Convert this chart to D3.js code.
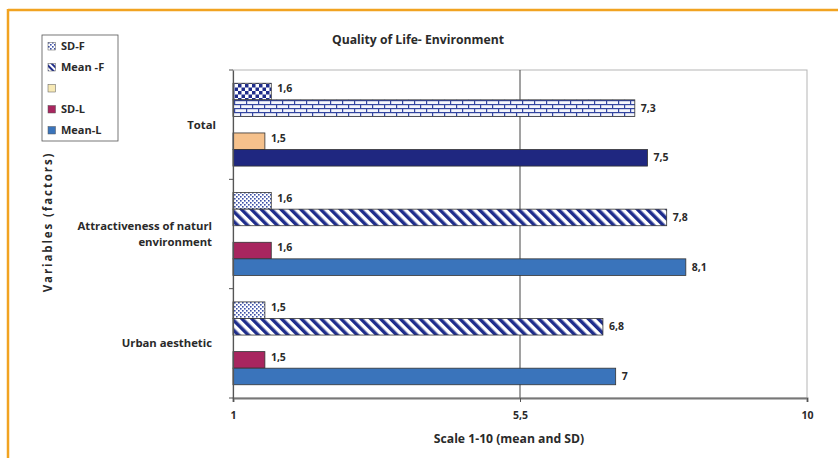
<!DOCTYPE html>
<html>
<head>
<meta charset="utf-8">
<script src="https://cdn.jsdelivr.net/npm/d3@7/dist/d3.min.js"></script>
<style>
  html, body { margin: 0; padding: 0; background: #fff; }
  svg { display: block; }
  text { font-family: "Open Sans", "DejaVu Sans", sans-serif; fill: #2a2a2a; }
</style>
</head>
<body>
<svg id="chart" width="838" height="458"></svg>
<script>
// Category labels (lines per label) and series names, top to bottom inside each group
const categories = ["Total", "Attractiveness of naturl environment", "Urban aesthetic"];
const categoryLines = [["Total"], ["Attractiveness of naturl", "environment"], ["Urban aesthetic"]];
const seriesNames = ["SD-F", "Mean -F", "", "SD-L", "Mean-L"];

// Values per series, one per category
const sdF   = [1.6, 1.6, 1.5];
const meanF = [7.3, 7.8, 6.8];
const blank = [null, null, null];
const sdL   = [1.5, 1.6, 1.5];
const meanL = [7.5, 8.1, 7.0];

const xTicks = [1, 5.5, 10];
const xDomain = [1, 10];

const seriesValues = [sdF, meanF, blank, sdL, meanL];

// Fills: per series, per category (the Total group uses its own styling)
const fills = [
  ["url(#checker)", "url(#dots)", "url(#dots)"],
  ["url(#brick)", "url(#stripes)", "url(#stripes)"],
  ["#f7e9b5", "#f7e9b5", "#f7e9b5"],
  ["#f5c18c", "#a8265f", "#a8265f"],
  ["#1f2780", "#3a74bb", "#3a74bb"]
];
const legendFills = ["url(#dotsLegend)", "url(#stripesLegend)", "#f7e9b5", "#a8265f", "#3a74bb"];

const svg = d3.select("#chart");
const navy = "#1f2d8c";

// ---- patterns ----
const defs = svg.append("defs");

const checker = defs.append("pattern").attr("id", "checker")
  .attr("patternUnits", "userSpaceOnUse").attr("width", 7).attr("height", 7);
checker.append("rect").attr("width", 7).attr("height", 7).attr("fill", "#fff");
checker.append("rect").attr("width", 3.5).attr("height", 3.5).attr("fill", navy);
checker.append("rect").attr("x", 3.5).attr("y", 3.5).attr("width", 3.5).attr("height", 3.5).attr("fill", navy);

const brick = defs.append("pattern").attr("id", "brick")
  .attr("patternUnits", "userSpaceOnUse").attr("width", 12).attr("height", 8);
brick.append("rect").attr("width", 12).attr("height", 8).attr("fill", "#f4f6fc");
brick.append("rect").attr("y", 0).attr("width", 12).attr("height", 1.2).attr("fill", "#3345a0");
brick.append("rect").attr("y", 4).attr("width", 12).attr("height", 1.2).attr("fill", "#3345a0");
brick.append("rect").attr("x", 0).attr("y", 0).attr("width", 1.2).attr("height", 4).attr("fill", "#3345a0");
brick.append("rect").attr("x", 6).attr("y", 4).attr("width", 1.2).attr("height", 4).attr("fill", "#3345a0");

function dotsPattern(id) {
  const p = defs.append("pattern").attr("id", id)
    .attr("patternUnits", "userSpaceOnUse").attr("width", 4).attr("height", 4);
  p.append("rect").attr("width", 4).attr("height", 4).attr("fill", "#fff");
  p.append("rect").attr("x", 0).attr("y", 0).attr("width", 1.6).attr("height", 1.6).attr("fill", "#3a4ea6");
  p.append("rect").attr("x", 2).attr("y", 2).attr("width", 1.6).attr("height", 1.6).attr("fill", "#3a4ea6");
}
dotsPattern("dots");
dotsPattern("dotsLegend");

function stripesPattern(id, w) {
  const p = defs.append("pattern").attr("id", id)
    .attr("patternUnits", "userSpaceOnUse").attr("width", w).attr("height", w)
    .attr("patternTransform", "rotate(-45)");
  p.append("rect").attr("width", w).attr("height", w).attr("fill", "#fff");
  p.append("rect").attr("width", w / 2).attr("height", w).attr("fill", navy);
}
stripesPattern("stripes", 7);
stripesPattern("stripesLegend", 4);

// ---- frame ----
svg.append("line").attr("x1", 8).attr("x2", 838).attr("y1", 10).attr("y2", 10)
  .attr("stroke", "#f1a321").attr("stroke-width", 2.5);
svg.append("line").attr("x1", 8).attr("x2", 8).attr("y1", 9).attr("y2", 458)
  .attr("stroke", "#f1a321").attr("stroke-width", 2.5);

// ---- scales ----
const plot = { left: 233, right: 807, top: 70, bottom: 398 };
const x = d3.scaleLinear().domain(xDomain).range([plot.left, plot.right]);
const y = d3.scaleBand().domain(categories).range([plot.top, plot.bottom]).padding(0);
const ys = d3.scaleBand().domain(d3.range(seriesNames.length)).range([0, y.bandwidth()])
  .paddingInner(0).paddingOuter(0.8);

// plot border (top/right light)
svg.append("rect").attr("x", plot.left).attr("y", plot.top)
  .attr("width", plot.right - plot.left).attr("height", plot.bottom - plot.top)
  .attr("fill", "none").attr("stroke", "#b5b5b5").attr("stroke-width", 1);

// gridline at mid tick
svg.append("g").selectAll("line").data(xTicks.slice(1, -1)).join("line")
  .attr("x1", d => x(d)).attr("x2", d => x(d))
  .attr("y1", plot.top).attr("y2", plot.bottom)
  .attr("stroke", "#444").attr("stroke-width", 1);

// ---- bars ----
const bars = [];
categories.forEach((c, ci) => {
  seriesValues.forEach((vals, si) => {
    if (vals[ci] != null) bars.push({ c, ci, si, v: vals[ci] });
  });
});

const gBars = svg.append("g");
gBars.selectAll("rect").data(bars).join("rect")
  .attr("x", x(xDomain[0]))
  .attr("y", d => y(d.c) + ys(d.si))
  .attr("width", d => x(d.v) - x(xDomain[0]))
  .attr("height", ys.bandwidth())
  .attr("fill", d => fills[d.si][d.ci])
  .attr("stroke", "#333").attr("stroke-width", 0.8);

const fmt = v => String(v).replace(".", ",");
gBars.selectAll("text").data(bars).join("text")
  .attr("x", d => x(d.v) + 6)
  .attr("y", d => y(d.c) + ys(d.si) + ys.bandwidth() / 2 - (d.si === 0 || d.si === 3 ? 3 : 0))
  .attr("dy", "0.35em")
  .attr("font-size", 10.5).attr("font-weight", 700)
  .text(d => fmt(d.v));

// ---- axes ----
const xAxis = svg.append("g").attr("transform", `translate(0,${plot.bottom})`)
  .call(d3.axisBottom(x).tickValues(xTicks).tickSize(4).tickFormat(fmt));
xAxis.select(".domain").attr("stroke", "#777").attr("stroke-width", 2);
xAxis.selectAll(".tick line").attr("stroke", "#555");
xAxis.selectAll(".tick text").attr("font-size", 10.5).attr("font-weight", 700)
  .attr("font-family", "'Open Sans', sans-serif").attr("fill", "#2a2a2a").attr("dy", "1.3em");

const yAxis = svg.append("g").attr("transform", `translate(${plot.left},0)`)
  .call(d3.axisLeft(y).tickSize(0).tickFormat(""));
yAxis.select(".domain").attr("stroke", "#555").attr("stroke-width", 1.2);
// band boundary ticks
svg.append("g").selectAll("line")
  .data(categories.map(c => y(c)).concat([plot.bottom]))
  .join("line")
  .attr("x1", plot.left - 4).attr("x2", plot.left)
  .attr("y1", d => d).attr("y2", d => d)
  .attr("stroke", "#555");

// category labels
const catG = svg.append("g");
categories.forEach((c, i) => {
  const lines = categoryLines[i];
  const cy = y(c) + y.bandwidth() / 2;
  const t = catG.append("text").attr("text-anchor", "end")
    .attr("font-size", 11.3).attr("font-weight", 700);
  lines.forEach((ln, k) => {
    t.append("tspan").attr("x", i === 0 ? 216 : 212)
      .attr("y", cy + (k - (lines.length - 1) / 2) * 16 + 4)
      .text(ln);
  });
});

// titles
svg.append("text").attr("x", 418).attr("y", 44).attr("text-anchor", "middle")
  .attr("font-size", 12.2).attr("font-weight", 700).text("Quality of Life- Environment");
svg.append("text").attr("x", 509).attr("y", 443).attr("text-anchor", "middle")
  .attr("font-size", 12.2).attr("font-weight", 700).text("Scale 1-10 (mean and SD)");
svg.append("text").attr("transform", "translate(52,222) rotate(-90)").attr("text-anchor", "middle")
  .attr("font-size", 11.5).attr("font-weight", 700).attr("letter-spacing", 1.9)
  .text("Variables (factors)");

// ---- legend ----
const lg = svg.append("g");
lg.append("rect").attr("x", 42).attr("y", 35).attr("width", 76).attr("height", 106)
  .attr("fill", "#fff").attr("stroke", "#555").attr("stroke-width", 0.8);
const items = lg.selectAll("g.item").data(seriesNames).join("g").attr("class", "item")
  .attr("transform", (d, i) => `translate(48,${46 + i * 21})`);
items.append("rect").attr("x", 0).attr("y", -3.5).attr("width", 7.5).attr("height", 7.5)
  .attr("fill", (d, i) => legendFills[i]).attr("stroke", "#555").attr("stroke-width", 0.5);
items.append("text").attr("x", 13).attr("y", 0).attr("dy", "0.35em")
  .attr("font-size", 11).attr("font-weight", 700).text(d => d);
</script>
</body>
</html>
